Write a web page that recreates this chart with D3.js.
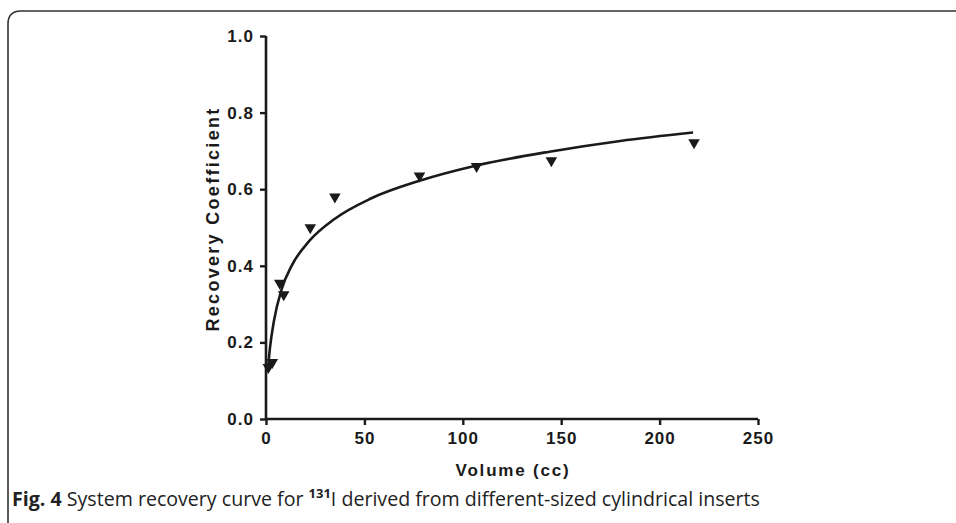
<!DOCTYPE html>
<html>
<head>
<meta charset="utf-8">
<script src="https://cdn.jsdelivr.net/npm/d3@7"></script>
<style>
  body { margin: 0; background: #fff; }
  svg { display: block; }
  .tick text { font-family: "Liberation Sans", Arial, sans-serif; font-weight: bold; font-size: 17px; letter-spacing: 1px; fill: #1a1a1a; }
  .axis-label { font-family: "Liberation Sans", Arial, sans-serif; font-weight: bold; font-size: 17px; letter-spacing: 1.8px; fill: #1a1a1a; }
  .y-label { font-size: 18px; letter-spacing: 2.3px; }
  .caption { font-family: "Open Sans", "Noto Sans", sans-serif; font-size: 19.6px; fill: #222; }
</style>
</head>
<body>
<svg id="chart"></svg>
<script>
// measured points (volume in cc, recovery coefficient)
let volumes = [1.2, 3.2, 7, 9, 22.5, 35, 78, 107, 145, 217.5];
let recovery = [0.135, 0.148, 0.355, 0.325, 0.50, 0.58, 0.635, 0.66, 0.675, 0.722];

// fitted curve
let curveVol = [1, 2, 4, 8, 13, 22, 35, 53, 78, 107, 144, 180, 217];
let curveRC = [0.13, 0.185, 0.255, 0.34, 0.40, 0.465, 0.523, 0.575, 0.622, 0.662, 0.698, 0.726, 0.748];

let xTicks = [0, 50, 100, 150, 200, 250];
let yTicks = [0.0, 0.2, 0.4, 0.6, 0.8, 1.0];

let width = 956, height = 523;
let margin = {left: 266, top: 36, right: 198, bottom: 104};
let ink = "#1a1a1a";

let svg = d3.select("#chart")
	.attr("width", width)
	.attr("height", height);

// frame round the figure (top and left edges only)
svg.append("path")
	.attr("d", "M956,11 L21,11 Q8,11 8,24 L8,523")
	.attr("fill", "none")
	.attr("stroke", "#333")
	.attr("stroke-width", 1.6);

let x = d3.scaleLinear()
	.domain([0, 250])
	.range([margin.left, width - margin.right]);

let y = d3.scaleLinear()
	.domain([0, 1])
	.range([height - margin.bottom, margin.top]);

let xAxis = svg.append("g")
	.attr("transform", "translate(0," + y(0) + ")")
	.call(d3.axisBottom(x).tickValues(xTicks).tickSize(6).tickPadding(7).tickFormat(d3.format("d")));

let yAxis = svg.append("g")
	.attr("transform", "translate(" + x(0) + ",0)")
	.call(d3.axisLeft(y).tickValues(yTicks).tickSize(6).tickPadding(6).tickFormat(d3.format(".1f")));

for (let g of [xAxis, yAxis]){
	g.select(".domain").attr("stroke", ink).attr("stroke-width", 2.6)
	g.selectAll(".tick line").attr("stroke", ink).attr("stroke-width", 2.4)
	g.attr("font-family", null).attr("font-size", null)
}
// keep the domain from drawing outer ticks
xAxis.select(".domain").attr("d", "M" + x(0) + ",0H" + x(250));
yAxis.select(".domain").attr("d", "M0," + y(0) + "V" + y(1));

// curve
let line = d3.line()
	.x((d, i) => x(curveVol[i]))
	.y(d => y(d))
	.curve(d3.curveMonotoneX);

svg.append("path")
	.attr("d", line(curveRC))
	.attr("fill", "none")
	.attr("stroke", ink)
	.attr("stroke-width", 2.6);

// downward triangles
let tri = d3.symbol().type(d3.symbolTriangle).size(58);
svg.append("g")
	.selectAll("path")
	.data(volumes)
	.join("path")
	.attr("d", tri)
	.attr("transform", (d, i) => "translate(" + x(d) + "," + y(recovery[i]) + ") rotate(180)")
	.attr("fill", ink);

// axis titles
svg.append("text")
	.attr("class", "axis-label y-label")
	.attr("text-anchor", "middle")
	.attr("transform", "translate(" + 219 + "," + 219 + ") rotate(-90)")
	.text("Recovery Coefficient");

svg.append("text")
	.attr("class", "axis-label")
	.attr("text-anchor", "middle")
	.attr("x", 513)
	.attr("y", 476)
	.text("Volume (cc)");

// caption
let cap = svg.append("text")
	.attr("class", "caption")
	.attr("x", 12)
	.attr("y", 506);
cap.append("tspan").attr("font-weight", "bold").text("Fig. 4");
cap.append("tspan").text(" System recovery curve for ");
cap.append("tspan").attr("font-weight", "bold").attr("font-size", "13px").attr("dy", -8).text("131");
cap.append("tspan").attr("dy", 8).text("I derived from different-sized cylindrical inserts");
</script>
</body>
</html>
